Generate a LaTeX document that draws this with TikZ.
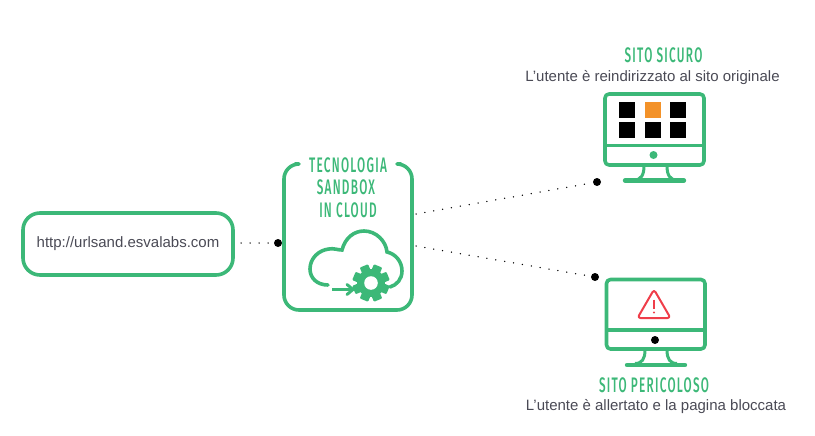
\documentclass[tikz,border=0pt]{standalone}
\usepackage{fontspec}
\setmainfont{Liberation Sans}
\newfontfamily\titlefont[FakeStretch=0.56,LetterSpace=6]{Fira Sans Medium}
\usetikzlibrary{positioning}
\definecolor{esvagreen}{HTML}{3CB878}
\definecolor{esvaorange}{HTML}{F39229}
\definecolor{esvared}{HTML}{EF3E4A}
\definecolor{esvatext}{HTML}{4A4A55}
\tikzset{
  greenline/.style={draw=esvagreen,line width=3.6pt,line join=round},
  thinline/.style={draw=esvagreen,line width=3pt,line cap=round},
  blackdot/.style={circle,fill=black,inner sep=0pt,minimum size=8pt},
  dotline/.style={draw=black,line width=1.5pt,line cap=round,dash pattern=on 0pt off 9pt},
  titletext/.style={text=esvagreen,font=\titlefont\fontsize{21}{21}\selectfont,inner sep=0pt},
  bodytext/.style={text=esvatext,font=\fontsize{15}{15}\selectfont,inner sep=0pt},
  tile/.style={fill=black,inner sep=0pt,minimum size=16pt},
}
\begin{document}
\begin{tikzpicture}[x=1pt,y=-1pt]
%
\useasboundingbox (0,0) rectangle (815,436);
%
\node[greenline,rounded corners=17pt,minimum width=210pt,minimum height=62pt,inner sep=0pt,
      bodytext] (urlbox) at (128,244) {http://urlsand.esvalabs.com};
\node[blackdot] (urldot) at (278,243) {};
\coordinate (urlend) at (241,243);
\draw[dotline] (urlend) -- (urldot);
%
% sandbox frame, open at the top
\draw[greenline,line cap=round,rounded corners=15pt] (295,164) -- (284,164) -- (284,310) -- (412,310) -- (412,164) -- (401,164);
\node[titletext] (title1) at (348,165) {TECNOLOGIA};
\node[titletext] (title2) at (346,187) {SANDBOX};
\node[titletext] (title3) at (348,210) {IN CLOUD};
%
% cloud
\draw[thinline,line width=3.6pt] (328,285) .. controls (317,285) and (310,278) .. (310,269)
  .. controls (310,258) and (319,250) .. (329,249)
  .. controls (333,248) and (338,250) .. (342,250)
  .. controls (345,238) and (354,231) .. (364,231)
  .. controls (376,231) and (386,241) .. (387,252)
  .. controls (396,254) and (402,262) .. (402,271)
  .. controls (402,279) and (397,285) .. (390,287);
\draw[thinline,line width=3.6pt,line cap=butt] (332,289.5) -- (352,289.5);
\draw[thinline,line cap=round,line join=round] (347,284.5) -- (353,289.5) -- (347,294.5);
% gear
\fill[esvagreen] (371,283) circle (14pt);
\foreach \a in {0,45,...,315}
  \fill[esvagreen,shift={(371,283)},rotate=\a+22.5,rounded corners=1pt] (-4.5,-18.5) rectangle (4.5,-9);
\fill[white] (371,283) circle (6.8pt);
%
% upper monitor
\coordinate (safestart) at (416,214);
\node[blackdot] (safedot) at (597,182) {};
\draw[dotline] (safestart) -- (safedot);
\node[titletext] (safetitle) at (663.5,55.5) {SITO SICURO};
\node[bodytext] (safetext) at (652.5,78) {L'utente è reindirizzato al sito originale};
\draw[greenline,rounded corners=4pt] (605,94) rectangle (704,165);
\draw[greenline] (605,145.5) -- (704,145.5);
\fill[esvagreen] (653.5,155) circle (4pt);
\draw[thinline,line cap=butt] (644,166) .. controls (644,175) and (641,180) .. (634,180);
\draw[thinline,line cap=butt] (667,166) .. controls (667,175) and (670,180) .. (677,180);
\draw[thinline,line width=4.4pt] (625,180.5) -- (684,180.5);
\node[tile] (tile1) at (627,110) {};
\node[tile,fill=esvaorange] (tile2) at (653,110) {};
\node[tile] (tile3) at (678,110) {};
\node[tile] (tile4) at (627,130) {};
\node[tile] (tile5) at (653,130) {};
\node[tile] (tile6) at (678,130) {};
%
% lower monitor
\coordinate (riskstart) at (416,246);
\node[blackdot] (riskdot) at (595,277) {};
\draw[dotline] (riskstart) -- (riskdot);
\draw[greenline,rounded corners=4pt] (606.5,279.5) rectangle (705,349);
\draw[greenline] (606.5,330) -- (705,330);
\node[blackdot] (screendot) at (655,340) {};
\draw[thinline,line cap=butt] (645,350) .. controls (645,359) and (642,363.5) .. (635,363.5);
\draw[thinline,line cap=butt] (667,350) .. controls (667,359) and (670,363.5) .. (677,363.5);
\draw[thinline,line width=4.4pt] (627,365) -- (685,365);
\draw[draw=esvared,line width=2pt,line join=round,rounded corners=3pt] (654,289.5) -- (670.5,318) -- (637.5,318) -- cycle;
\draw[draw=esvared,line width=2pt] (654,299.5) -- (654,309);
\fill[esvared] (654,312.5) circle (1.1pt);
\node[titletext] (risktitle) at (654,385) {SITO PERICOLOSO};
\node[bodytext] (risktext) at (656,407) {L'utente è allertato e la pagina bloccata};
%
\end{tikzpicture}
\end{document}
